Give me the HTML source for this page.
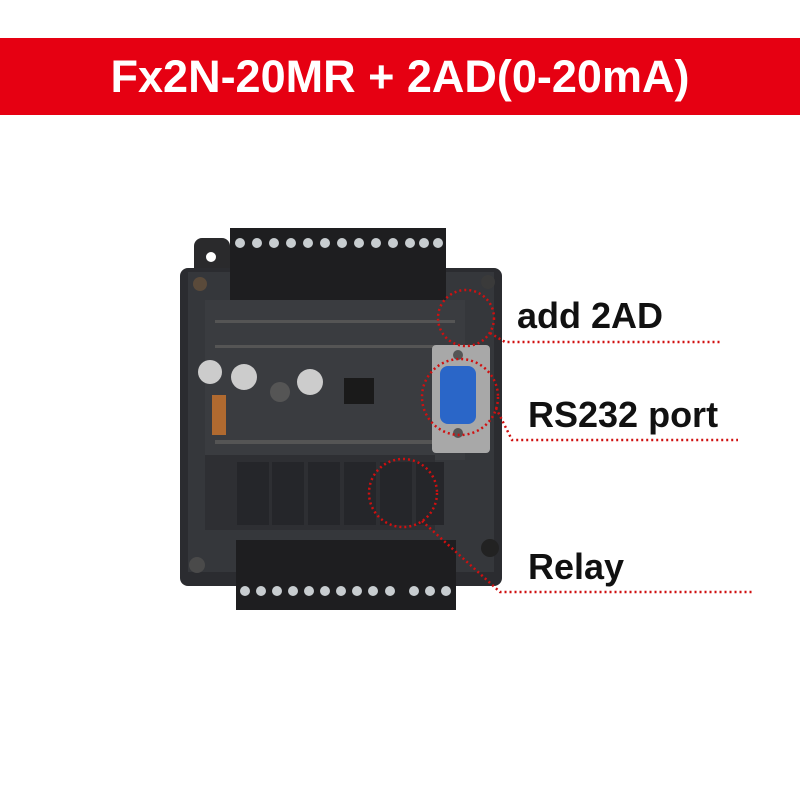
<!DOCTYPE html>
<html><head><style>
html,body{margin:0;padding:0;background:#fff;}
body{width:800px;height:800px;position:relative;overflow:hidden;font-family:"Liberation Sans",sans-serif;}
.band{position:absolute;left:0;top:38px;width:800px;height:77px;background:#e60012;color:#fff;font-weight:bold;font-size:45px;text-align:center;line-height:77px;}
.lbl{position:absolute;font-weight:bold;font-size:36px;color:#111;}
</style></head><body>
<div class="band">Fx2N-20MR + 2AD(0-20mA)</div>
<svg width="800" height="800" style="position:absolute;left:0;top:0">
<rect x="194" y="238" width="36" height="40" rx="8" fill="#2a2a2c"/>
<circle cx="211" cy="257" r="5" fill="#fff"/>
<rect x="180" y="268" width="322" height="318" rx="8" fill="#2b2c30"/>
<rect x="188" y="272" width="306" height="300" fill="#35373b"/>
<rect x="205" y="300" width="260" height="160" fill="#3a3c40"/>
<rect x="205" y="455" width="230" height="75" fill="#2e2f33"/>
<g fill="#25262a">
<rect x="237" y="462" width="32" height="63"/><rect x="272" y="462" width="32" height="63"/>
<rect x="308" y="462" width="32" height="63"/><rect x="344" y="462" width="32" height="63"/>
<rect x="380" y="462" width="32" height="63"/><rect x="416" y="462" width="28" height="63"/>
</g>
<circle cx="210" cy="372" r="12" fill="#ccc"/><circle cx="244" cy="377" r="13" fill="#ccc"/>
<circle cx="310" cy="382" r="13" fill="#ccc"/><circle cx="280" cy="392" r="10" fill="#555"/>
<rect x="344" y="378" width="30" height="26" fill="#1a1a1a"/>
<rect x="212" y="395" width="14" height="40" fill="#b06a30"/>
<g fill="#555">
<rect x="215" y="320" width="240" height="3"/><rect x="215" y="345" width="230" height="3"/>
<rect x="215" y="440" width="230" height="4"/>
</g>
<circle cx="200" cy="284" r="7" fill="#5a4a3a"/><circle cx="488" cy="282" r="7" fill="#3a3a3a"/>
<circle cx="197" cy="565" r="8" fill="#4a4a4a"/><circle cx="490" cy="548" r="9" fill="#222"/>
<rect x="432" y="345" width="58" height="108" rx="4" fill="#a8a8a8"/>
<rect x="440" y="366" width="36" height="58" rx="8" fill="#2a66c8"/>
<circle cx="458" cy="355" r="5" fill="#555"/><circle cx="458" cy="433" r="5" fill="#555"/>
<rect x="230" y="228" width="216" height="72" fill="#1e1e20"/>
<g fill="#c8cdd0">
<circle cx="240" cy="243" r="5"/><circle cx="257" cy="243" r="5"/><circle cx="274" cy="243" r="5"/><circle cx="291" cy="243" r="5"/><circle cx="308" cy="243" r="5"/><circle cx="325" cy="243" r="5"/><circle cx="342" cy="243" r="5"/><circle cx="359" cy="243" r="5"/><circle cx="376" cy="243" r="5"/><circle cx="393" cy="243" r="5"/><circle cx="410" cy="243" r="5"/><circle cx="424" cy="243" r="5"/><circle cx="438" cy="243" r="5"/>
</g>
<rect x="236" y="540" width="220" height="70" fill="#1e1e20"/>
<g fill="#c8cdd0">
<circle cx="245" cy="591" r="5"/><circle cx="261" cy="591" r="5"/><circle cx="277" cy="591" r="5"/><circle cx="293" cy="591" r="5"/><circle cx="309" cy="591" r="5"/><circle cx="325" cy="591" r="5"/><circle cx="341" cy="591" r="5"/><circle cx="357" cy="591" r="5"/><circle cx="373" cy="591" r="5"/><circle cx="390" cy="591" r="5"/><circle cx="414" cy="591" r="5"/><circle cx="430" cy="591" r="5"/><circle cx="446" cy="591" r="5"/>
</g>
<g fill="none" stroke="#d01010" stroke-width="2.5" stroke-dasharray="2,3">
<circle cx="466" cy="318" r="28"/><circle cx="460" cy="397" r="38"/><circle cx="403" cy="493" r="34"/>
<polyline points="490,333 505,342 720,342"/>
<polyline points="496,408 512,440 738,440"/>
<polyline points="422,521 500,592 752,592"/>
</g>
</svg>
<div class="lbl" style="left:517px;top:295px">add 2AD</div>
<div class="lbl" style="left:528px;top:394px">RS232 port</div>
<div class="lbl" style="left:528px;top:546px">Relay</div>
</body></html>
